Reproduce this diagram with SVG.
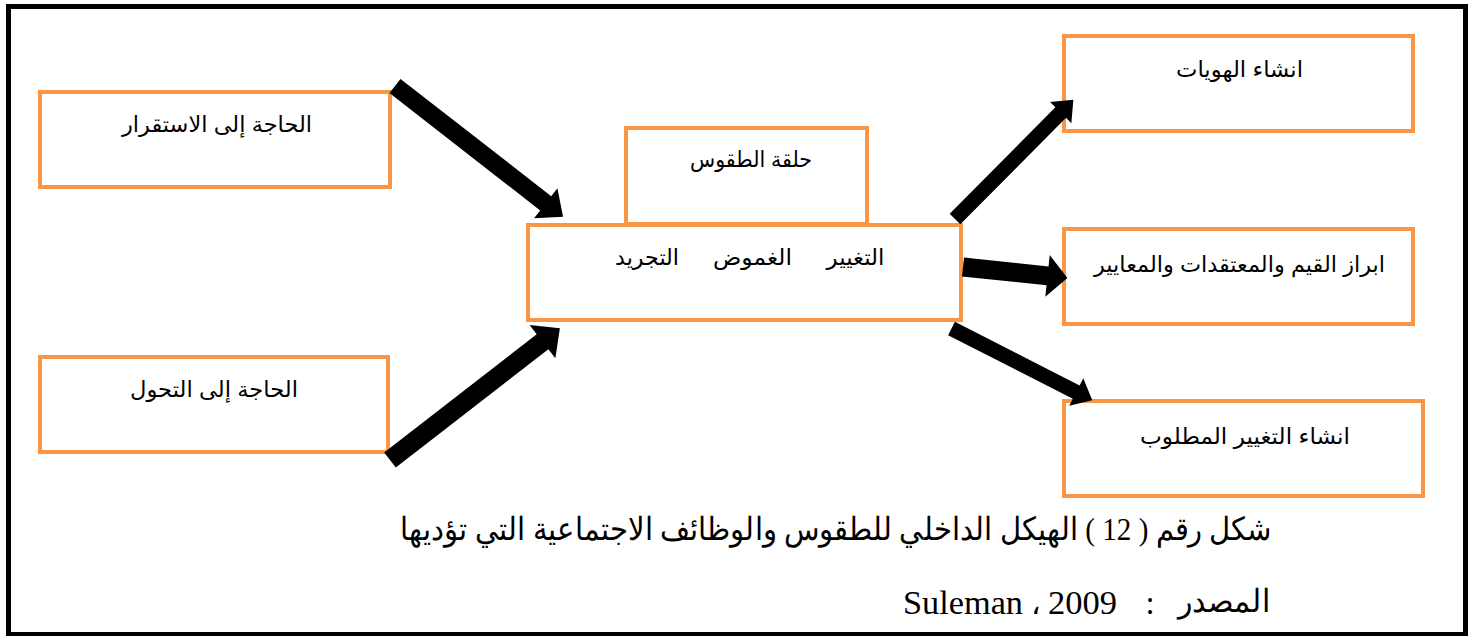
<svg xmlns="http://www.w3.org/2000/svg" width="1473" height="636" viewBox="0 0 1473 636">
  <style>
    .box { fill: #ffffff; stroke: #F79646; stroke-width: 4; }
    .lbl { font-family: "Liberation Sans", "DejaVu Sans", sans-serif; font-size: 22px; fill: #000; text-anchor: middle; direction: rtl; }
    .cap { font-family: "Liberation Serif", "DejaVu Serif", serif; fill: #000; direction: rtl; text-anchor: middle; }
    .arrow { fill: #000; }
  </style>

  <rect x="0" y="0" width="1473" height="636" fill="#ffffff"/>
  <!-- outer frame -->
  <rect x="8.5" y="6.5" width="1457" height="628" fill="none" stroke="#000" stroke-width="5"/>

  <g id="need-stability">
    <rect class="box" x="40" y="92" width="350" height="95"/>
    <text class="lbl" x="217" y="132" textLength="190" lengthAdjust="spacingAndGlyphs">الحاجة إلى الاستقرار</text>
  </g>
  <g id="need-transformation">
    <rect class="box" x="40" y="357" width="348" height="95"/>
    <text class="lbl" x="214" y="397" textLength="168" lengthAdjust="spacingAndGlyphs">الحاجة إلى التحول</text>
  </g>
  <g id="ritual-cycle">
    <rect class="box" x="626" y="128" width="241" height="96"/>
    <text class="lbl" x="751" y="167" textLength="122" lengthAdjust="spacingAndGlyphs">حلقة الطقوس</text>
  </g>
  <g id="ritual-core">
    <rect class="box" x="528" y="225" width="433" height="95"/>
    <text class="lbl" x="855.5" y="265" textLength="58" lengthAdjust="spacingAndGlyphs">التغيير</text>
    <text class="lbl" x="752.5" y="265" textLength="79" lengthAdjust="spacingAndGlyphs">الغموض</text>
    <text class="lbl" x="647" y="265" textLength="64" lengthAdjust="spacingAndGlyphs">التجريد</text>
  </g>
  <g id="identities">
    <rect class="box" x="1064" y="36" width="349" height="95"/>
    <text class="lbl" x="1239.5" y="77" textLength="127" lengthAdjust="spacingAndGlyphs">انشاء الهويات</text>
  </g>
  <g id="values">
    <rect class="box" x="1064" y="229" width="349" height="95"/>
    <text class="lbl" x="1239.5" y="272" textLength="291" lengthAdjust="spacingAndGlyphs">ابراز القيم والمعتقدات والمعايير</text>
  </g>
  <g id="desired-change">
    <rect class="box" x="1064" y="401" width="359" height="95"/>
    <text class="lbl" x="1245" y="444" textLength="210" lengthAdjust="spacingAndGlyphs">انشاء التغيير المطلوب</text>
  </g>

  <g id="connectors">
    <polygon class="arrow" transform="translate(395,86) rotate(37.9)" points="0,-9 191,-9 191,-19 213,0 191,19 191,9 0,9"/>
    <polygon class="arrow" transform="translate(390,460) rotate(-37.8)" points="0,-9.5 193,-9.5 193,-21 215,0 193,21 193,9.5 0,9.5"/>
    <polygon class="arrow" transform="translate(955,219) rotate(-45.2)" points="0,-7.5 150,-7.5 150,-15 168,0 150,15 150,7.5 0,7.5"/>
    <polygon class="arrow" transform="translate(963,267) rotate(6)" points="0,-9.5 85,-9.5 85,-21 105,0 85,21 85,9.5 0,9.5"/>
    <polygon class="arrow" transform="translate(951.5,328.5) rotate(27)" points="0,-7.5 140,-7.5 140,-15.5 158,0 140,15.5 140,7.5 0,7.5"/>
  </g>

  <g id="caption">
    <text class="cap" x="836" y="540" font-size="32" textLength="872" lengthAdjust="spacingAndGlyphs">شكل رقم ( 12 ) الهيكل الداخلي للطقوس والوظائف الاجتماعية التي تؤديها</text>
    <text class="cap" x="1224" y="612" font-size="32" textLength="92" lengthAdjust="spacingAndGlyphs">المصدر</text>
    <text class="cap" x="1150" y="614" font-size="33">:</text>
    <text class="cap" x="1082.5" y="614" font-size="33" textLength="69" lengthAdjust="spacingAndGlyphs">2009</text>
    <text class="cap" x="1036" y="614" font-size="30">،</text>
    <text class="cap" x="963" y="614" font-size="33" textLength="120" lengthAdjust="spacingAndGlyphs">Suleman</text>
  </g>
</svg>
